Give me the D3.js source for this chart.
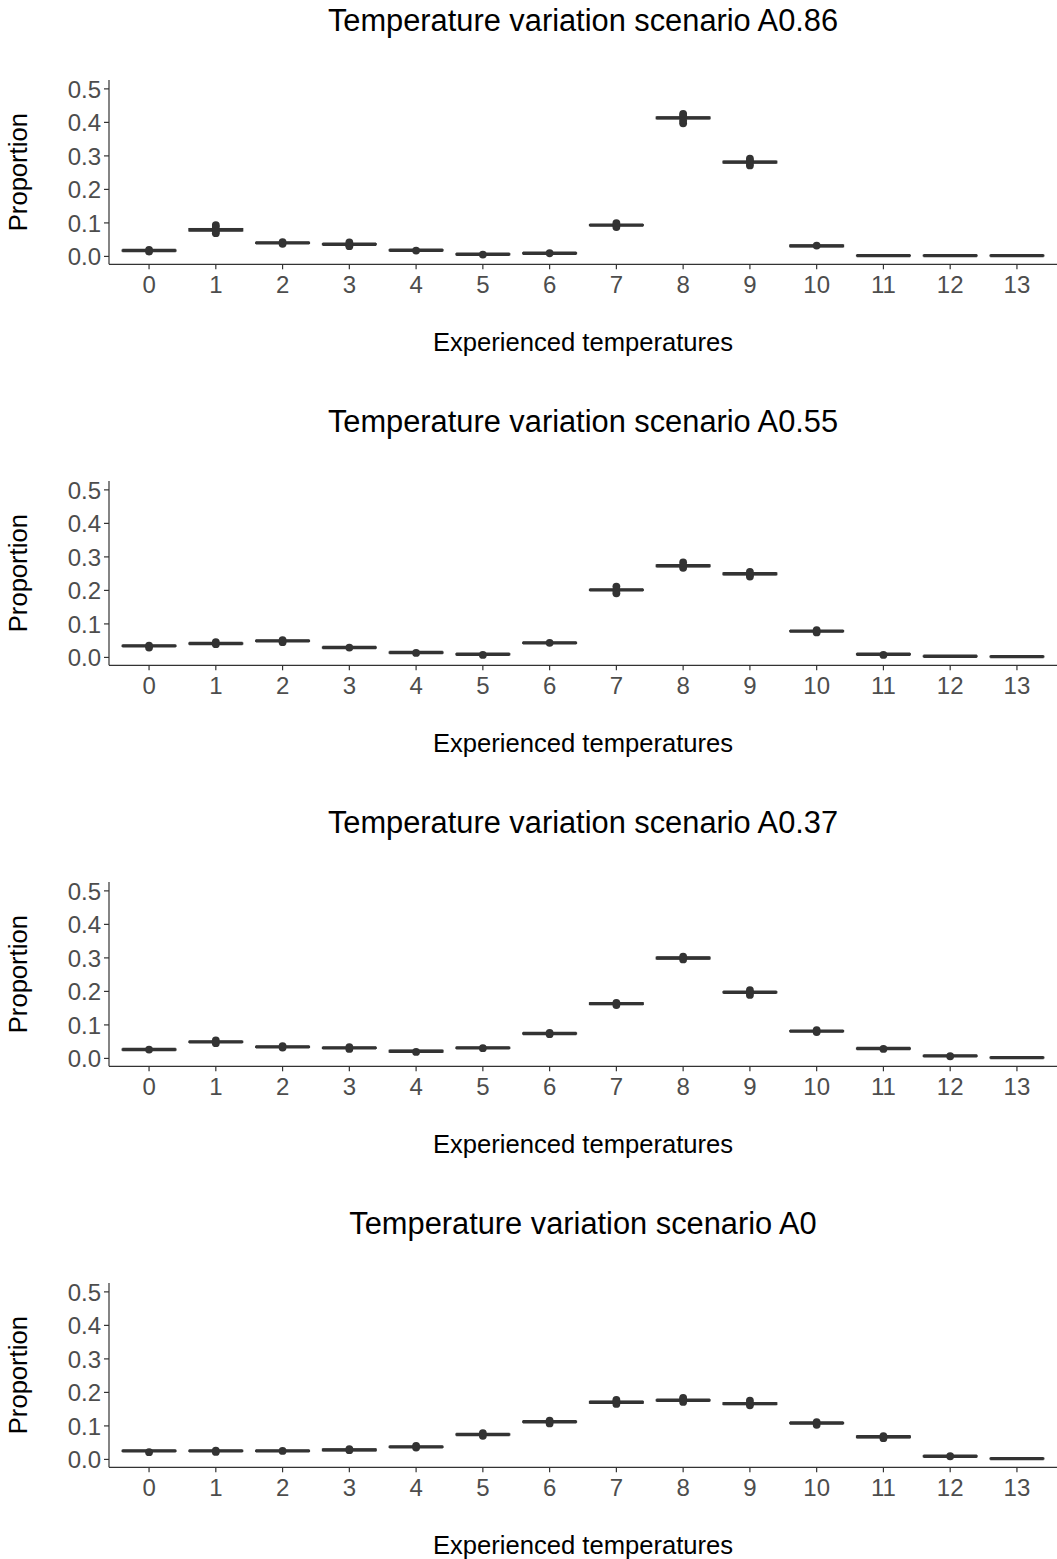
<!DOCTYPE html>
<html>
<head>
<meta charset="utf-8">
<script src="https://cdn.jsdelivr.net/npm/d3@7"></script>
<style>
  body { margin: 0; background: #fff; }
  text { font-family: "Liberation Sans", Arial, sans-serif; }
</style>
</head>
<body>
<svg id="chart" width="1057" height="1559"></svg>
<script>
// categories on the x axis
const temps = ["0","1","2","3","4","5","6","7","8","9","10","11","12","13"];
const scenarios = ["A0.86", "A0.55", "A0.37", "A0"];
const yTicks = [0, 0.1, 0.2, 0.3, 0.4, 0.5];

// medians per scenario
const medians = [
  [0.016, 0.078, 0.039, 0.035, 0.017, 0.005, 0.008, 0.092, 0.412, 0.280, 0.030, 0.001, 0.001, 0.001],
  [0.033, 0.040, 0.048, 0.028, 0.013, 0.008, 0.042, 0.200, 0.272, 0.248, 0.077, 0.008, 0.002, 0.001],
  [0.025, 0.048, 0.033, 0.030, 0.020, 0.030, 0.073, 0.162, 0.298, 0.196, 0.080, 0.028, 0.006, 0.001],
  [0.024, 0.024, 0.024, 0.027, 0.036, 0.073, 0.111, 0.169, 0.175, 0.165, 0.107, 0.066, 0.008, 0.001]
];
// half height of the box (q3 - median), tiny for most
const boxHalf = [
  [0.001, 0.003, 0.001, 0.001, 0.001, 0.001, 0.001, 0.001, 0.002, 0.002, 0.002, 0.0005, 0.0005, 0.0005],
  [0.001, 0.001, 0.001, 0.001, 0.001, 0.001, 0.001, 0.001, 0.002, 0.002, 0.001, 0.001, 0.0005, 0.0005],
  [0.001, 0.001, 0.001, 0.001, 0.002, 0.001, 0.001, 0.002, 0.002, 0.001, 0.001, 0.001, 0.001, 0.0005],
  [0.001, 0.001, 0.001, 0.002, 0.001, 0.001, 0.001, 0.002, 0.001, 0.002, 0.001, 0.002, 0.001, 0.0005]
];
// outlier points per category
const outliers = [
  [[0.013, 0.018], [0.068, 0.074, 0.086, 0.092], [0.036, 0.041], [0.029, 0.033, 0.040], [0.016], [0.004], [0.008],
   [0.086, 0.092, 0.098], [0.396, 0.404, 0.418, 0.424], [0.270, 0.278, 0.284, 0.290], [0.031], [], [], []],
  [[0.028, 0.034], [0.038, 0.044], [0.044, 0.050], [0.028], [0.012], [0.006], [0.042],
   [0.190, 0.198, 0.210], [0.266, 0.272, 0.282], [0.240, 0.246, 0.254], [0.073, 0.080], [0.006], [], []],
  [[0.025], [0.044, 0.052], [0.031, 0.035], [0.027, 0.032], [0.018], [0.029], [0.071, 0.075],
   [0.158, 0.164], [0.294, 0.302], [0.188, 0.195, 0.202], [0.077, 0.083], [0.027], [0.005], []],
  [[0.020], [0.021, 0.025], [0.024], [0.026, 0.029], [0.034, 0.039], [0.069, 0.077], [0.106, 0.114],
   [0.164, 0.172, 0.176], [0.170, 0.178, 0.182], [0.160, 0.166, 0.174], [0.102, 0.110], [0.062, 0.068], [0.008], []]
];

const svg = d3.select("#chart");
const panelH = 401;
const plotL = 109, plotR = 1057, plotT = 80, plotB = 264.3;
const ink = "#333333";

const x = d3.scaleBand().domain(temps).range([plotL, plotR]).paddingInner(0).paddingOuter(0.1);
// ggplot-like continuous expansion
const y = d3.scaleLinear().domain([-0.025, 0.525]).range([plotB, plotT]);
const bw = x.bandwidth() * 0.8;

scenarios.forEach((sc, p) => {
  const g = svg.append("g").attr("transform", `translate(0,${p * panelH})`);

  g.append("text")
    .attr("x", (plotL + plotR) / 2)
    .attr("y", 31)
    .attr("text-anchor", "middle")
    .style("font-size", "30.8px")
    .attr("fill", "#000")
    .text("Temperature variation scenario " + sc);

  // y axis
  const ya = g.append("g").attr("transform", `translate(${plotL},0)`)
    .call(d3.axisLeft(y).tickValues(yTicks).tickFormat(d3.format(".1f")).tickSize(5).tickPadding(3));
  ya.select(".domain").attr("d", `M0,${plotT}V${plotB}`).attr("stroke", ink).attr("stroke-width", 1.2);
  ya.selectAll(".tick line").attr("stroke", ink).attr("stroke-width", 1.2);
  ya.selectAll(".tick text").attr("fill", "#4D4D4D").style("font-size", "24px").attr("dy", "0.36em");

  // x axis
  const xa = g.append("g").attr("transform", `translate(0,${plotB})`)
    .call(d3.axisBottom(x).tickSize(5).tickPadding(6));
  xa.select(".domain").attr("d", `M${plotL},0H${plotR}`).attr("stroke", ink).attr("stroke-width", 1.2);
  xa.selectAll(".tick line").attr("stroke", ink).attr("stroke-width", 1.2);
  xa.selectAll(".tick text").attr("fill", "#4D4D4D").style("font-size", "24px").attr("dy", "0.72em");

  g.append("text")
    .attr("x", (plotL + plotR) / 2)
    .attr("y", 351)
    .attr("text-anchor", "middle")
    .style("font-size", "25.6px")
    .text("Experienced temperatures");

  g.append("text")
    .attr("transform", `translate(27,${(plotT + plotB) / 2}) rotate(-90)`)
    .attr("text-anchor", "middle")
    .style("font-size", "25.6px")
    .text("Proportion");

  // boxes
  temps.forEach((t, i) => {
    const cx = x(t) + x.bandwidth() / 2;
    const m = medians[p][i], h = boxHalf[p][i];
    const yq3 = y(m + h), yq1 = y(m - h);
    g.append("rect")
      .attr("x", cx - bw / 2).attr("y", yq3)
      .attr("width", bw).attr("height", Math.max(yq1 - yq3, 0.1))
      .attr("fill", "#fff").attr("stroke", ink).attr("stroke-width", 1.6);
    g.append("line")
      .attr("x1", cx - bw / 2).attr("x2", cx + bw / 2)
      .attr("y1", y(m)).attr("y2", y(m))
      .attr("stroke", ink).attr("stroke-width", 3.4);
    g.selectAll(null).data(outliers[p][i]).enter().append("circle")
      .attr("cx", cx).attr("cy", d => y(d)).attr("r", 3.9)
      .attr("fill", ink);
  });
});
</script>
</body>
</html>
